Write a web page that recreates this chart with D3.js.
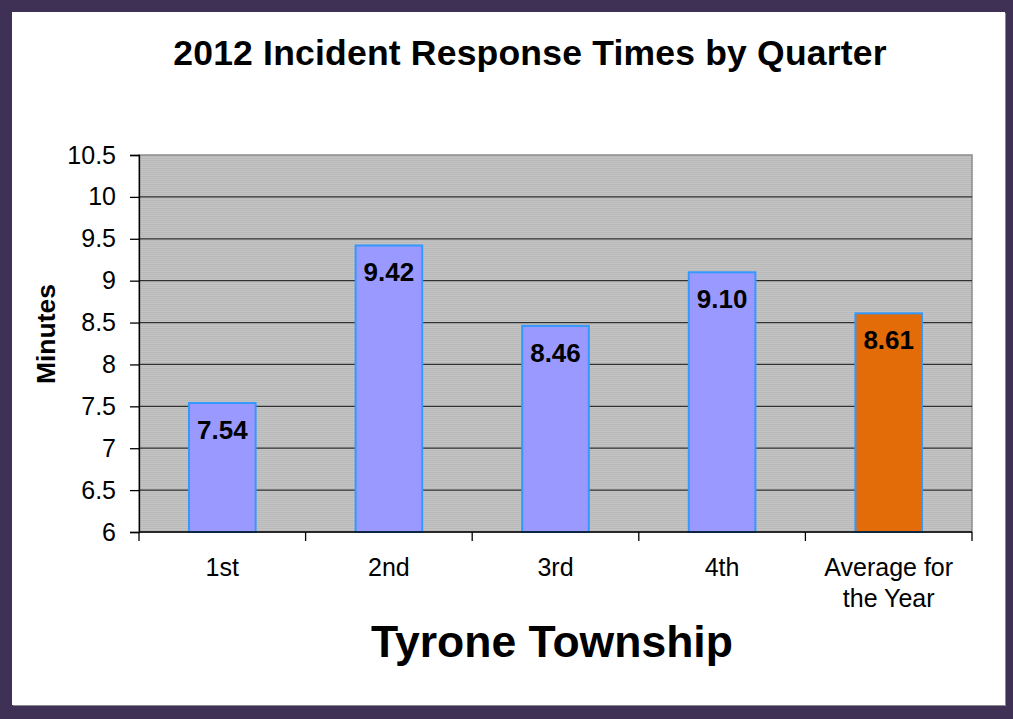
<!DOCTYPE html>
<html><head><meta charset="utf-8">
<script src="https://cdn.jsdelivr.net/npm/d3@7/dist/d3.min.js"></script>
<style>html,body{margin:0;padding:0;background:#3f3155;}svg{display:block;}</style>
</head><body>
<script>
const categories = ["1st", "2nd", "3rd", "4th", "Average for|the Year"];
const values = [7.54, 9.42, 8.46, 9.10, 8.61];
const valueLabels = ["7.54", "9.42", "8.46", "9.10", "8.61"];
const yTicks = [6, 6.5, 7, 7.5, 8, 8.5, 9, 9.5, 10, 10.5];
const barColors = ["#9999ff", "#9999ff", "#9999ff", "#9999ff", "#e36c09"];

const W = 1013, H = 719;
const svg = d3.select("body").append("svg").attr("width", W).attr("height", H);
const font = "'Liberation Sans', Arial, sans-serif";

// frame
svg.append("rect").attr("width", W).attr("height", H).attr("fill", "#3f3155");
svg.append("rect").attr("x", 13).attr("y", 13).attr("width", 993).attr("height", 693).attr("fill", "#8a8a8a");
svg.append("rect").attr("x", 12).attr("y", 12).attr("width", 993).attr("height", 693).attr("fill", "#ffffff");

const defs = svg.append("defs");
const pat = defs.append("pattern").attr("id", "stripes").attr("patternUnits", "userSpaceOnUse")
  .attr("width", 4).attr("height", 2);
pat.append("rect").attr("width", 4).attr("height", 2).attr("fill", "#c4c4c4");
pat.append("rect").attr("width", 4).attr("height", 1).attr("fill", "#b9b9b9");

const m = {l: 139, r: 972, t: 155, b: 532};
const x = d3.scaleBand().domain(categories).range([m.l, m.r]).paddingInner(0).paddingOuter(0);
const y = d3.scaleLinear().domain([6, 10.5]).range([m.b, m.t]);

svg.append("rect").attr("x", m.l).attr("y", m.t).attr("width", m.r - m.l).attr("height", m.b - m.t)
  .attr("fill", "url(#stripes)").attr("stroke", "#8c8c8c").attr("stroke-width", 1.5);

// gridlines
svg.append("g").selectAll("line").data(yTicks.filter(d => d > 6 && d < 10.5)).join("line")
  .attr("x1", m.l).attr("x2", m.r).attr("y1", d => y(d)).attr("y2", d => y(d))
  .attr("stroke", "#303030").attr("stroke-width", 1.2);

// bars
const bw = x.bandwidth() * 0.4;
svg.append("g").selectAll("rect").data(values).join("rect")
  .attr("x", (d, i) => x(categories[i]) + (x.bandwidth() - bw) / 2)
  .attr("y", d => y(d))
  .attr("width", bw)
  .attr("height", d => y(6) - y(d))
  .attr("fill", (d, i) => barColors[i])
  .attr("stroke", "#3399ff").attr("stroke-width", 2);

// value labels
svg.append("g").selectAll("text").data(values).join("text")
  .attr("x", (d, i) => x(categories[i]) + x.bandwidth() / 2)
  .attr("y", d => y(d) + 36)
  .attr("text-anchor", "middle")
  .attr("font-family", font).attr("font-weight", "bold").attr("font-size", 26)
  .attr("fill", "#000")
  .text((d, i) => valueLabels[i]);

// y axis
const yAxis = d3.axisLeft(y).tickValues(yTicks).tickSize(9).tickPadding(14).tickFormat(d => String(d));
const gy = svg.append("g").attr("transform", `translate(${m.l},0)`).call(yAxis);
gy.select(".domain").attr("stroke", "#000").attr("stroke-width", 1.3);
gy.selectAll(".tick line").attr("stroke", "#000").attr("stroke-width", 1.3);
gy.selectAll(".tick text").attr("font-family", font).attr("font-size", 25).attr("fill", "#000");

// x axis line + ticks at band boundaries
svg.append("line").attr("x1", m.l).attr("x2", m.r).attr("y1", m.b).attr("y2", m.b)
  .attr("stroke", "#000").attr("stroke-width", 1.5);
const bounds = categories.map(c => x(c)).concat([m.r]);
svg.append("g").selectAll("line").data(bounds).join("line")
  .attr("x1", d => d).attr("x2", d => d).attr("y1", m.b).attr("y2", m.b + 9)
  .attr("stroke", "#000").attr("stroke-width", 1.3);

// x labels
const xl = svg.append("g").selectAll("text").data(categories).join("text")
  .attr("text-anchor", "middle")
  .attr("font-family", font).attr("font-size", 25).attr("fill", "#000");
xl.each(function(c) {
  const parts = c.split("|");
  const t = d3.select(this);
  parts.forEach((p, k) => {
    t.append("tspan").attr("x", x(c) + x.bandwidth() / 2).attr("y", 576 + k * 31).text(p);
  });
});

// title
svg.append("text").attr("x", 530).attr("y", 65).attr("text-anchor", "middle")
  .attr("font-family", font).attr("font-weight", "bold").attr("font-size", 35.5).attr("fill", "#000")
  .attr("letter-spacing", 0.2)
  .text("2012 Incident Response Times by Quarter");

// y title
svg.append("text").attr("transform", "translate(55,334) rotate(-90)").attr("text-anchor", "middle")
  .attr("font-family", font).attr("font-weight", "bold").attr("font-size", 26.5).attr("fill", "#000")
  .text("Minutes");

// x title
svg.append("text").attr("x", 552).attr("y", 657).attr("text-anchor", "middle")
  .attr("font-family", font).attr("font-weight", "bold").attr("font-size", 44.5).attr("fill", "#000")
  .text("Tyrone Township");
</script>
</body></html>
